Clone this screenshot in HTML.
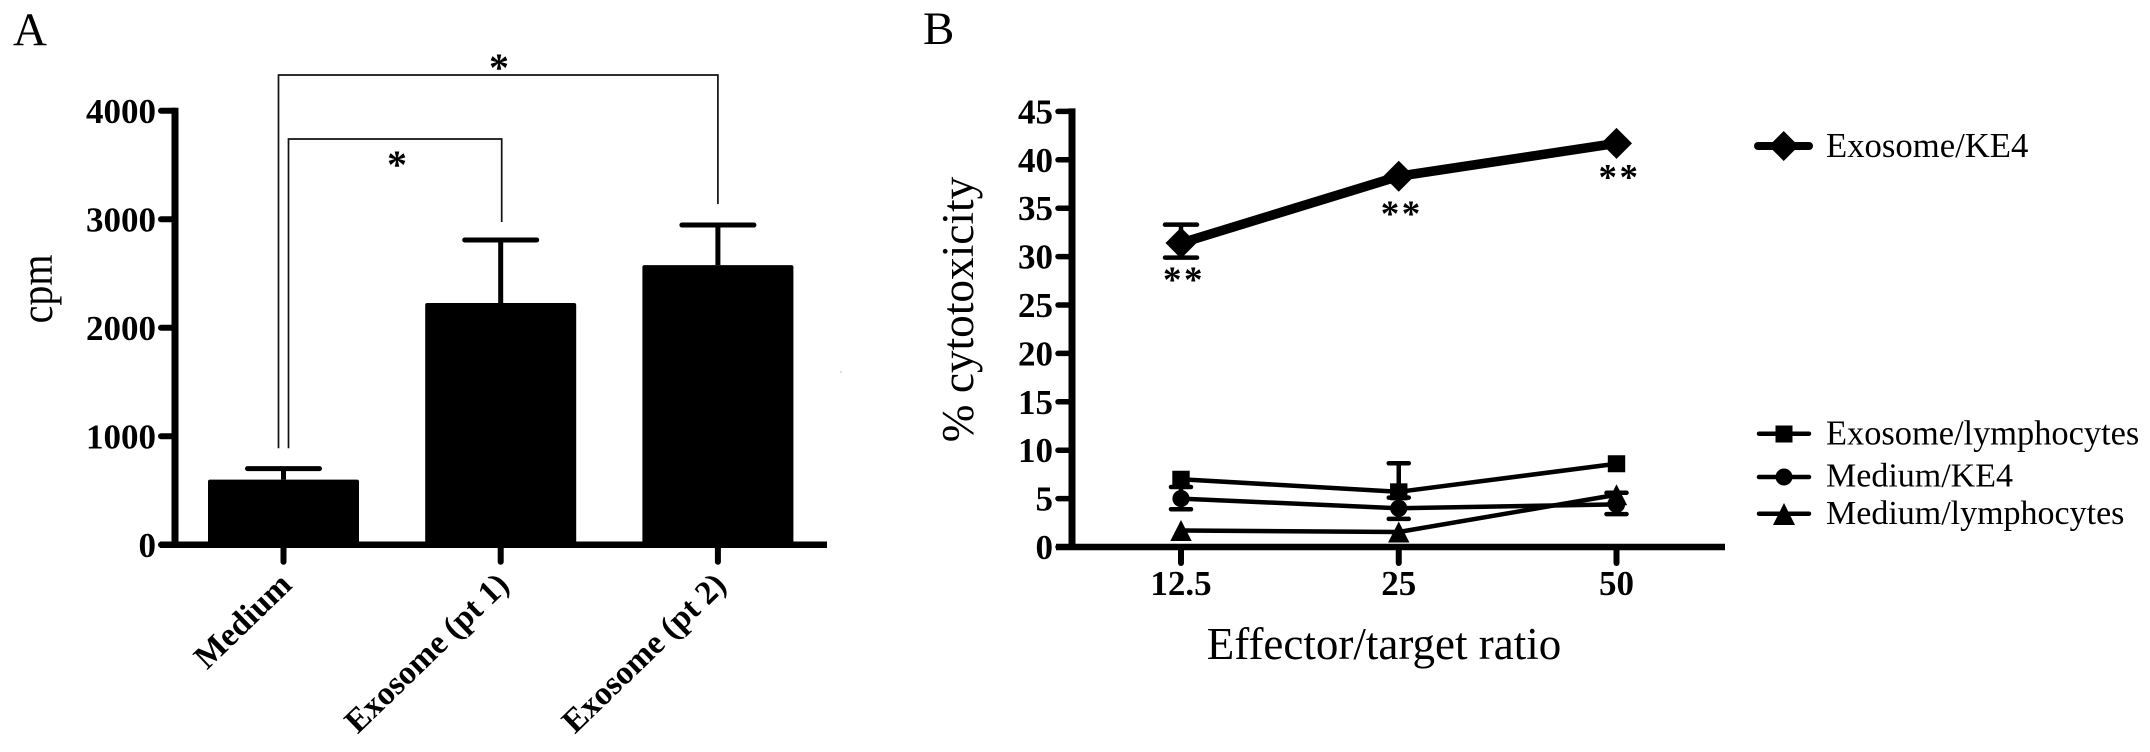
<!DOCTYPE html>
<html lang="en">
<head>
<meta charset="utf-8">
<title>Exosome proliferation and cytotoxicity</title>
<style>
  html, body { margin: 0; padding: 0; background: #fff; }
  body { width: 2150px; height: 752px; overflow: hidden; }
  svg { display: block; }
  text { font-family: "Liberation Serif", "Times New Roman", serif; fill: #000; }
  .bold { font-weight: bold; }
</style>
</head>
<body>
<svg id="figure" xmlns="http://www.w3.org/2000/svg" width="2150" height="752" viewBox="0 0 2150 752">
  <rect width="2150" height="752" fill="#fff"/>
  <text x="13" y="45" font-size="47">A</text>
  <text x="923" y="44" font-size="47">B</text>
  <text transform="translate(52 289) rotate(-90) scale(1 1.15)" text-anchor="middle" font-size="40">cpm</text>
  <text transform="translate(973 309.5) rotate(-90)" text-anchor="middle" font-size="45.3">% cytotoxicity</text>
  <text x="1384" y="659" text-anchor="middle" font-size="45">Effector/target ratio</text>
  <circle cx="841" cy="372" r="0.8" fill="#bbb"/>

  <g id="chartA"></g>
  <g id="chartB"></g>

  <g>
    <g>
      <line x1="1758" y1="146" x2="1809" y2="146" stroke="#000" stroke-width="8" stroke-linecap="round"/>
      <polygon points="1783.7,131 1798.7,146 1783.7,161 1768.7,146" fill="#000"/>
      <text x="1826" y="157" font-size="34.7">Exosome/KE4</text>
    </g>
    <g>
      <line x1="1759" y1="433.7" x2="1809" y2="433.7" stroke="#000" stroke-width="4.5" stroke-linecap="round"/>
      <rect x="1775.5" y="425.5" width="17" height="17" fill="#000"/>
      <text x="1826" y="444.7" font-size="34.4">Exosome/lymphocytes</text>
    </g>
    <g>
      <line x1="1759" y1="477" x2="1809" y2="477" stroke="#000" stroke-width="4.5" stroke-linecap="round"/>
      <circle cx="1784" cy="477" r="8.5" fill="#000"/>
      <text x="1826" y="486.7" font-size="34">Medium/KE4</text>
    </g>
    <g>
      <line x1="1759" y1="513.7" x2="1809" y2="513.7" stroke="#000" stroke-width="4.5" stroke-linecap="round"/>
      <polygon points="1784,503 1795,525 1773,525" fill="#000"/>
      <text x="1826" y="524" font-size="34">Medium/lymphocytes</text>
    </g>
  </g>
</svg>

<script>
// ---------- Panel A data ----------
const barCategories = ['Medium', 'Exosome (pt 1)', 'Exosome (pt 2)'];
const barValues = [601, 2228, 2578];
const barErrorTops = [702, 2809, 2947];
const yTicksA = [0, 1000, 2000, 3000, 4000];
// significance brackets, in cpm units: left foot, top, right foot, right-hand bar index
const bracketLeftFoot = [890, 890];
const bracketTop = [3740, 4330];
const bracketRightFoot = [2975, 3140];
const bracketRightBar = [1, 2];

// ---------- Panel B data ----------
const ratioLabels = ['12.5', '25', '50'];
const yTicksB = [0, 5, 10, 15, 20, 25, 30, 35, 40, 45];
const exosomeKE4 = [31.4, 38.3, 41.7];
const exosomeKE4Upper = [33.3, null, null];
const exosomeKE4Lower = [29.9, null, null];
const exosomeLymph = [7.0, 5.7, 8.6];
const exosomeLymphUpper = [null, 8.65, null];
const exosomeLymphLower = [null, null, null];
const mediumKE4 = [5.0, 4.0, 4.4];
const mediumKE4Upper = [6.2, 5.1, 5.6];
const mediumKE4Lower = [3.9, 2.9, 3.4];
const mediumLymph = [1.7, 1.55, 5.4];
const significanceLabels = ['**', '**', '**'];
const significanceLevels = [28.1, 34.9, 38.7];

// ---------- Axis functions ----------
function xA(i) { return 283.5 + 217.2 * i; }
function yA(v) { return 544.8 - v * 0.1085; }
function xB(i) { return 1181 + 217.75 * i; }
function yB(v) { return 547 - v * 9.68; }

const NS = 'http://www.w3.org/2000/svg';
function make(parent, tag, attrs, txt) {
  const el = document.createElementNS(NS, tag);
  for (const k in attrs) el.setAttribute(k, attrs[k]);
  if (txt !== undefined) el.textContent = txt;
  parent.appendChild(el);
  return el;
}
let el;

// ---------- Panel A ----------
const A = document.getElementById('chartA');

barValues.forEach(function (v, i) {
  el = make(A, 'line', { x1: xA(i), x2: xA(i), y1: yA(v), y2: yA(barErrorTops[i]), stroke: '#000', 'stroke-width': 5 });
  
  
  el = make(A, 'line', { x1: xA(i) - 36, x2: xA(i) + 36, y1: yA(barErrorTops[i]), y2: yA(barErrorTops[i]), stroke: '#000', 'stroke-width': 5, 'stroke-linecap': 'round' });
  
  
  el = make(A, 'rect', { x: xA(i) - 75.5, y: yA(v), width: 151, height: yA(0) - yA(v), rx: 2, fill: '#000' });
  
  
  el = make(A, 'line', { x1: xA(i), x2: xA(i), y1: yA(0), y2: yA(0) + 17, stroke: '#000', 'stroke-width': 6, 'stroke-linecap': 'round' });
  
  
  el = make(A, 'text', { class: 'bold', 'font-size': 33.3, 'text-anchor': 'end', transform: 'translate(' + (xA(i) + 10) + ' ' + (yA(0) + 42) + ') rotate(-44)' }, barCategories[i]);
  
  
});

el = make(A, 'line', { x1: 175, x2: 175, y1: yA(4000) - 3, y2: yA(0) + 3, stroke: '#000', 'stroke-width': 7 });


el = make(A, 'line', { x1: 160, x2: 827, y1: yA(0), y2: yA(0), stroke: '#000', 'stroke-width': 6.5 });



yTicksA.forEach(function (t) {
  el = make(A, 'line', { x1: 161, x2: 175, y1: yA(t), y2: yA(t), stroke: '#000', 'stroke-width': 6, 'stroke-linecap': 'round' });
  
  
  el = make(A, 'text', { class: 'bold', 'font-size': 35, 'text-anchor': 'end', x: 156, y: yA(t) + 12 }, String(t));
  
  
});

bracketTop.forEach(function (top, i) {
  const left = xA(0) + (i === 0 ? 5 : -5);
  const right = xA(bracketRightBar[i]) + (i === 0 ? 1 : 0);
  el = make(A, 'polyline', { points: left + ',' + yA(bracketLeftFoot[i]) + ' ' + left + ',' + yA(top) + ' ' + right + ',' + yA(top) + ' ' + right + ',' + yA(bracketRightFoot[i]), fill: 'none', stroke: '#111', 'stroke-width': 1.7 });
  
  
});
el = make(A, 'text', { class: 'bold', 'font-size': 40, 'text-anchor': 'middle', x: 397, y: 178 }, '*');


el = make(A, 'text', { class: 'bold', 'font-size': 40, 'text-anchor': 'middle', x: 499, y: 81 }, '*');



// ---------- Panel B ----------
const B = document.getElementById('chartB');

el = make(B, 'line', { x1: 1072, x2: 1072, y1: yB(45) - 3, y2: yB(0) + 3, stroke: '#000', 'stroke-width': 7 });


el = make(B, 'line', { x1: 1056, x2: 1725, y1: yB(0), y2: yB(0), stroke: '#000', 'stroke-width': 6.5 });



yTicksB.forEach(function (t) {
  el = make(B, 'line', { x1: 1058, x2: 1072, y1: yB(t), y2: yB(t), stroke: '#000', 'stroke-width': 5.5, 'stroke-linecap': 'round' });
  
  
  el = make(B, 'text', { class: 'bold', 'font-size': 35, 'text-anchor': 'end', x: 1053, y: yB(t) + 12 }, String(t));
  
  
});

ratioLabels.forEach(function (lab, i) {
  el = make(B, 'line', { x1: xB(i), x2: xB(i), y1: yB(0), y2: yB(0) + 16, stroke: '#000', 'stroke-width': 6, 'stroke-linecap': 'round' });
  
  
  el = make(B, 'text', { class: 'bold', 'font-size': 35, 'text-anchor': 'middle', x: xB(i), y: 595 }, lab);
  
  
});

function drawErrors(upper, lower, vals, cap, sw) {
  vals.forEach(function (v, i) {
    [upper[i], lower[i]].forEach(function (e) {
      if (e === null) return;
      el = make(B, 'line', { x1: xB(i), x2: xB(i), y1: yB(v), y2: yB(e), stroke: '#000', 'stroke-width': sw });
      
      
      el = make(B, 'line', { x1: xB(i) - cap, x2: xB(i) + cap, y1: yB(e), y2: yB(e), stroke: '#000', 'stroke-width': sw, 'stroke-linecap': 'round' });
      
      
    });
  });
}

function drawLine(vals, sw, name) {
  const pts = vals.map(function (v, i) { return xB(i) + ',' + yB(v); }).join(' ');
  el = make(B, 'polyline', { points: pts, fill: 'none', stroke: '#000', 'stroke-width': sw, 'stroke-linejoin': 'round' });
  
  
}

// Lower three series
drawErrors(exosomeLymphUpper, exosomeLymphLower, exosomeLymph, 10, 4.5);
drawErrors(mediumKE4Upper, mediumKE4Lower, mediumKE4, 10, 4.5);
drawLine(exosomeLymph, 4.5, 'line-exosome-lymphocytes');
drawLine(mediumKE4, 4.5, 'line-medium-ke4');
drawLine(mediumLymph, 4.5, 'line-medium-lymphocytes');

exosomeLymph.forEach(function (v, i) {
  el = make(B, 'rect', { x: xB(i) - 8.7, y: yB(v) - 8.5, width: 17.4, height: 17, fill: '#000' });
  
  
});
mediumKE4.forEach(function (v, i) {
  el = make(B, 'circle', { cx: xB(i), cy: yB(v), r: 8.6, fill: '#000' });
  
  
});
mediumLymph.forEach(function (v, i) {
  const x = xB(i), y = yB(v);
  el = make(B, 'polygon', { points: x + ',' + (y - 10.5) + ' ' + (x + 10.7) + ',' + (y + 10.5) + ' ' + (x - 10.7) + ',' + (y + 10.5), fill: '#000' });
  
  
});

// Top series
drawErrors(exosomeKE4Upper, exosomeKE4Lower, exosomeKE4, 16, 4.5);
drawLine(exosomeKE4, 9.5, 'line-exosome-ke4');
exosomeKE4.forEach(function (v, i) {
  const x = xB(i), y = yB(v);
  el = make(B, 'polygon', { points: x + ',' + (y - 15.5) + ' ' + (x + 15.5) + ',' + y + ' ' + x + ',' + (y + 15.5) + ' ' + (x - 15.5) + ',' + y, fill: '#000' });
  
  
});

significanceLabels.forEach(function (lab, i) {
  el = make(B, 'text', { class: 'bold', 'font-size': 37, 'letter-spacing': 2.5, 'text-anchor': 'middle', x: xB(i) + 3, y: yB(significanceLevels[i]) + 17 }, lab);
  
  
});
</script>
</body>
</html>
